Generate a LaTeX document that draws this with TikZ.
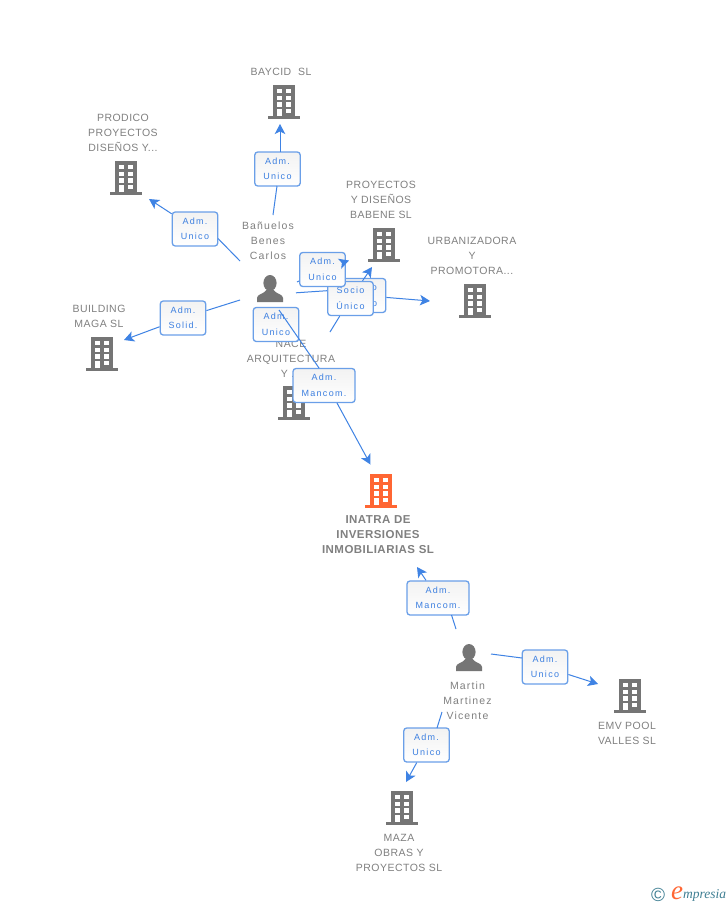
\documentclass[tikz,border=0pt]{standalone}
\usepackage{fontspec}
\setmainfont{Liberation Sans}
\newfontfamily\greyfont[LetterSpace=4.5]{Liberation Sans}
\newfontfamily\namefont[LetterSpace=11]{Liberation Sans}
\newfontfamily\boldgreyfont[LetterSpace=4]{Liberation Sans}
\newfontfamily\labfont[LetterSpace=14]{Liberation Sans}
\newfontfamily\logoserif{Liberation Serif}
\usetikzlibrary{arrows.meta}
\definecolor{lnblue}{HTML}{3F83E4}
\definecolor{bxblue}{HTML}{6A9FE8}
\definecolor{txblue}{HTML}{3C7FE0}
\definecolor{icgrey}{HTML}{757575}
\definecolor{txgrey}{HTML}{808080}
\definecolor{orng}{HTML}{FF6633}
\definecolor{teal1}{HTML}{3F7F93}
\tikzset{
  ent/.style={text=txgrey,align=center,inner sep=0pt,font=\greyfont\fontsize{10.5}{15}\selectfont},
  entn/.style={ent,font=\namefont\fontsize{10.5}{15}\selectfont},
  entb/.style={text=txgrey,align=center,inner sep=0pt,font=\boldgreyfont\bfseries\fontsize{11.5}{15}\selectfont},
  rolebox/.style={draw=bxblue,line width=1.3pt,rounded corners=3pt,top color=black!5,bottom color=white,
    text=txblue,align=center,inner sep=0pt,minimum height=34pt,font=\labfont\fontsize{9}{15.5}\selectfont,
    execute at begin node={\rule{0pt}{10.8pt}}},
  narrow/.style={rolebox,minimum width=45.5pt},
  wide/.style={rolebox,minimum width=62pt},
  lnk/.style={draw=lnblue,line width=1pt},
  lnka/.style={lnk,-{Stealth[length=10pt,width=10.5pt,inset=2.5pt]}},
  anchorpt/.style={inner sep=0pt,minimum size=34pt}
}
% #1 name, #2 centre x, #3 top y, #4 colour
\newcommand{\bldg}[4]{%
  \node[anchorpt] (#1) at (#2,#3+17) {};
  \begin{scope}[shift={(#2,#3)}]
    \fill[#4] (-11,0) rectangle (11,32);
    \fill[#4] (-16,31) rectangle (16,34);
    \foreach \yy in {3.8,10.5,17.1}{
      \fill[white] (-7,\yy) rectangle (-2.3,\yy+4.4);
      \fill[white] (2.3,\yy) rectangle (7,\yy+4.4);
    }
    \fill[white] (-7,23.8) rectangle (-2.3,31);
    \fill[white] (2.3,23.8) rectangle (7,28.2);
  \end{scope}}
% #1 name, #2 centre x, #3 top y
\newcommand{\persona}[3]{%
  \node[anchorpt,minimum size=27pt] (#1) at (#2,#3+13.5) {};
  \begin{scope}[shift={(#2,#3)}]
    \fill[icgrey] (0,8) ellipse (6.6 and 8);
    \fill[icgrey] (-13,27) -- (-13,23) .. controls (-13,19) and (-6,19) .. (-3.5,15)
      -- (3.5,15) .. controls (6,19) and (13,19) .. (13,23) -- (13,27) -- cycle;
  \end{scope}}
\begin{document}
\begin{tikzpicture}[x=1pt,y=-1pt]
\useasboundingbox (0,0) rectangle (728,905);
\fill[white] (0,0) rectangle (728,905);

% entities
\bldg{baycid}{284}{85}{icgrey}
\bldg{prodico}{126}{161}{icgrey}
\bldg{babene}{384}{228}{icgrey}
\bldg{urban}{475}{284}{icgrey}
\bldg{maga}{102}{337}{icgrey}
\bldg{nace}{294}{386}{icgrey}
\bldg{inatra}{381}{474}{orng}
\bldg{emv}{630}{679}{icgrey}
\bldg{maza}{402}{791}{icgrey}
\persona{pa}{270}{275}
\persona{pb}{469}{644}

\node[ent] (tbaycid) at (281,72) {BAYCID\ \ SL};
\node[ent] (tprodico) at (123,133) {PRODICO\\PROYECTOS\\DISEÑOS Y...};
\node[ent] (tbabene) at (381,200) {PROYECTOS\\Y DISEÑOS\\BABENE SL};
\node[ent] (turban) at (472,256) {URBANIZADORA\\Y\\PROMOTORA...};
\node[ent] (tmaga) at (99,316.5) {BUILDING\\MAGA SL};
\node[ent] (tnace) at (291,359) {NACE\\ARQUITECTURA\\Y ...};
\node[entn] (tpa) at (268,241) {Bañuelos\\Benes\\Carlos};
\node[entn] (tpb) at (467.5,701) {Martin\\Martinez\\Vicente};
\node[ent] (temv) at (627,733.5) {EMV POOL\\VALLES SL};
\node[ent] (tmaza) at (399,853) {MAZA\\OBRAS Y\\PROYECTOS SL};
\node[entb] (tinatra) at (378,535) {INATRA DE\\INVERSIONES\\INMOBILIARIAS SL};

% free ends of the connectors
\coordinate (s1) at (273,215);  \coordinate (h1) at (277,186);  \coordinate (o1) at (280,152);  \coordinate (e1) at (280,124);
\coordinate (s2) at (240,261);  \coordinate (h2) at (218,238.5);\coordinate (e2) at (149,199);
\coordinate (s3) at (240,300);  \coordinate (e3) at (124,340);
\coordinate (s4) at (297,282);  \coordinate (e4) at (349,260.5);
\coordinate (s5) at (296,292.8);\coordinate (h5) at (345,289.5); \coordinate (e5) at (430,301);
\coordinate (s6) at (330,332);  \coordinate (e6) at (372,267);
\coordinate (s8) at (279,310);  \coordinate (h8) at (319,368);  \coordinate (o8) at (337,403); \coordinate (e8) at (370.5,464.5);
\coordinate (s9) at (456,629);  \coordinate (h9) at (451.5,615);\coordinate (e9) at (417,567);
\coordinate (s10) at (491,654); \coordinate (h10) at (522,658); \coordinate (e10) at (598,684);
\coordinate (s11) at (442,712); \coordinate (h11) at (437,728); \coordinate (e11) at (406,782);

% role boxes and their connectors, in stacking order
\node[narrow] (l1) at (277.5,169) {Adm.\\Unico};
\draw[lnk] (s1) -- (h1);  \draw[lnka] (o1) -- (e1);
\node[narrow] (l2) at (195,229) {Adm.\\Unico};
\draw[lnk] (s2) -- (h2);  \draw[lnka] (l2) -- (e2);
\node[narrow] (l3) at (183,318) {Adm.\\Solid.};
\draw[lnk] (s3) -- (l3);  \draw[lnka] (l3) -- (e3);

\node[narrow] (l5) at (363,295.5) {Socio\\Único};
\draw[lnk] (s5) -- (h5);  \draw[lnka] (l5) -- (e5);
\node[narrow] (l6) at (350.5,298.5) {Socio\\Único};
\draw[lnk] (s6) -- (l6);  \draw[lnka] (l6) -- (e6);
\node[narrow] (l4) at (322.5,269.5) {Adm.\\Unico};
\draw[lnk] (s4) -- (l4);  \draw[lnka] (l4) -- (e4);
\node[narrow] (l7) at (276,324.5) {Adm.\\Unico};
\node[wide] (l8) at (324,385.5) {Adm.\\Mancom.};
\draw[lnk] (s8) -- (h8);  \draw[lnka] (o8) -- (e8);

\node[wide] (l9) at (438,598) {Adm.\\Mancom.};
\draw[lnk] (s9) -- (h9);  \draw[lnka] (l9) -- (e9);
\node[narrow] (l10) at (545,667) {Adm.\\Unico};
\draw[lnk] (s10) -- (h10);  \draw[lnka] (l10) -- (e10);
\node[narrow] (l11) at (426.5,745) {Adm.\\Unico};
\draw[lnk] (s11) -- (h11);  \draw[lnka] (l11) -- (e11);

% logo
\node[inner sep=0pt,text=teal1,font=\fontsize{19}{19}\selectfont] (lc) at (658,894.5) {©};
\node[inner sep=0pt,text=orng,anchor=base,font=\logoserif\itshape\fontsize{27}{27}\selectfont] (le) at (677,899) {e};
\node[inner sep=0pt,text=teal1,anchor=base west,font=\logoserif\itshape\fontsize{13.5}{14}\selectfont] (lm) at (683,898) {mpresia};
\end{tikzpicture}
\end{document}
